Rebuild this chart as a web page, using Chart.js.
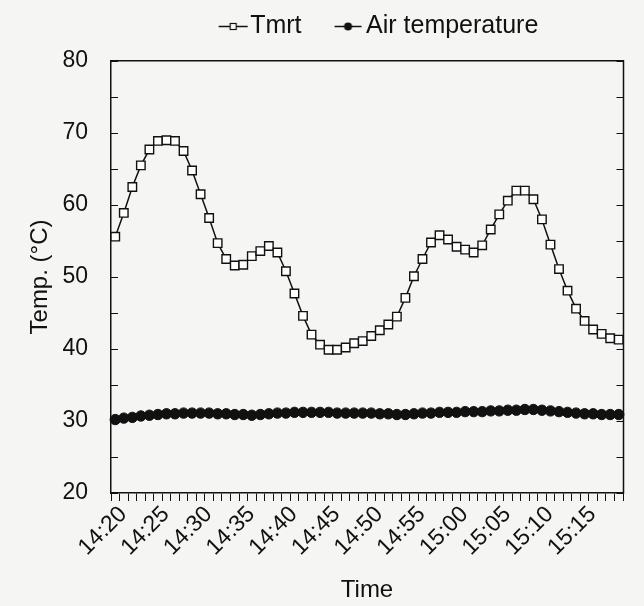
<!DOCTYPE html>
<html>
<head>
<meta charset="utf-8">
<title>Tmrt and air temperature</title>
<script src="https://cdn.jsdelivr.net/npm/chart.js@4.4.1/dist/chart.umd.min.js"></script>
<style>
  html, body { margin: 0; padding: 0; background: #f5f5f3; overflow: hidden; }
  #wrap { width: 644px; height: 606px; }
  canvas { display: block; }
</style>
</head>
<body>
<div id="wrap"><canvas id="chart" width="644" height="606"></canvas></div>
<script>
// one reading per minute, 14:20 - 15:19
const times = [
  '14:20','14:21','14:22','14:23','14:24','14:25','14:26','14:27','14:28','14:29',
  '14:30','14:31','14:32','14:33','14:34','14:35','14:36','14:37','14:38','14:39',
  '14:40','14:41','14:42','14:43','14:44','14:45','14:46','14:47','14:48','14:49',
  '14:50','14:51','14:52','14:53','14:54','14:55','14:56','14:57','14:58','14:59',
  '15:00','15:01','15:02','15:03','15:04','15:05','15:06','15:07','15:08','15:09',
  '15:10','15:11','15:12','15:13','15:14','15:15','15:16','15:17','15:18','15:19'
]

const tmrt = [
  55.6, 58.9, 62.5, 65.5, 67.7, 68.9, 69.0, 68.9, 67.5, 64.8,
  61.5, 58.2, 54.7, 52.5, 51.6, 51.7, 52.9, 53.6, 54.3, 53.4,
  50.8, 47.7, 44.6, 42.0, 40.6, 39.9, 39.9, 40.2, 40.8, 41.1,
  41.8, 42.6, 43.4, 44.5, 47.1, 50.1, 52.5, 54.8, 55.8, 55.2,
  54.2, 53.8, 53.4, 54.4, 56.6, 58.7, 60.6, 62.0, 62.0, 60.8,
  58.0, 54.5, 51.1, 48.1, 45.6, 43.9, 42.7, 42.1, 41.5, 41.3
]

const airTemp = [
  30.2, 30.4, 30.5, 30.7, 30.8, 30.9, 31.0, 31.0, 31.1, 31.1,
  31.1, 31.1, 31.0, 31.0, 30.9, 30.9, 30.8, 30.9, 31.0, 31.1,
  31.1, 31.2, 31.2, 31.2, 31.2, 31.2, 31.1, 31.1, 31.1, 31.1,
  31.1, 31.0, 31.0, 30.9, 30.9, 31.0, 31.1, 31.1, 31.2, 31.2,
  31.2, 31.3, 31.3, 31.3, 31.4, 31.4, 31.5, 31.5, 31.6, 31.6,
  31.5, 31.4, 31.3, 31.2, 31.1, 31.0, 31.0, 30.9, 30.9, 30.9
]

const timeLabels = ['14:20','14:25','14:30','14:35','14:40','14:45','14:50','14:55','15:00','15:05','15:10','15:15']
const tempLabels = [20, 30, 40, 50, 60, 70, 80]

const FONT = "'Liberation Sans', Arial, sans-serif"
const INK = '#111'

// little "-o-" glyphs for the legend, drawn off screen
function legendGlyph(kind) {
  const c = document.createElement('canvas')
  c.width = 64
  c.height = 16
  const g = c.getContext('2d')
  g.strokeStyle = INK
  g.fillStyle = INK
  g.lineWidth = 1.5
  g.beginPath()
  g.moveTo(34, 8.5)
  g.lineTo(kind === 'rect' ? 63 : 61, 8.5)
  g.stroke()
  if (kind === 'rect') {
    g.fillStyle = '#fff'
    g.fillRect(45.5, 5.5, 6, 6)
    g.lineWidth = 1.2
    g.strokeRect(45.5, 5.5, 6, 6)
  } else {
    g.beginPath()
    g.arc(47.5, 8.5, 4, 0, Math.PI * 2)
    g.fill()
  }
  return c
}
const glyphs = [legendGlyph('rect'), legendGlyph('circle')]

// right side of the frame, with the same inward ticks as the left axis
const rightFrame = {
  id: 'rightFrame',
  afterDraw(chart) {
    const {ctx, chartArea, scales} = chart
    const y = scales.y
    const rx = Math.round(chartArea.right) + 0.5
    ctx.save()
    ctx.strokeStyle = INK
    ctx.lineWidth = 1.5
    ctx.beginPath()
    ctx.moveTo(rx, chartArea.top - 0.75)
    ctx.lineTo(rx, chartArea.bottom + 0.75)
    ctx.stroke()
    ctx.lineWidth = 1
    y.ticks.forEach(t => {
      const py = Math.round(y.getPixelForValue(t.value)) + 0.5
      ctx.beginPath()
      ctx.moveTo(rx, py)
      ctx.lineTo(rx - 7, py)
      ctx.stroke()
    })
    ctx.restore()
  }
}

new Chart(document.getElementById('chart'), {
  type: 'line',
  data: {
    labels: times,
    datasets: [
      {
        label: 'Tmrt',
        data: tmrt,
        borderColor: INK,
        borderWidth: 1.5,
        pointStyle: 'rect',
        pointRadius: 6,
        pointBackgroundColor: '#fff',
        pointBorderColor: INK,
        pointBorderWidth: 1.4,
        tension: 0
      },
      {
        label: 'Air temperature',
        data: airTemp,
        borderColor: INK,
        borderWidth: 1.5,
        pointStyle: 'circle',
        pointRadius: 5.2,
        pointBackgroundColor: INK,
        pointBorderColor: INK,
        pointBorderWidth: 1,
        tension: 0
      }
    ]
  },
  plugins: [rightFrame],
  options: {
    responsive: false,
    animation: false,
    devicePixelRatio: 1,
    layout: { padding: { top: 3.5, left: 10, right: 21, bottom: 2 } },
    plugins: {
      tooltip: { enabled: false },
      legend: {
        position: 'top',
        fullSize: false,
        labels: {
          usePointStyle: true,
          pointStyleWidth: 42,
          padding: 10,
          color: INK,
          font: { family: FONT, size: 25 },
          generateLabels: chart => {
            const items = Chart.defaults.plugins.legend.labels.generateLabels(chart)
            items.forEach((it, i) => { it.pointStyle = glyphs[i] })
            return items
          }
        }
      }
    },
    scales: {
      x: {
        type: 'category',
        position: 'bottom',
        offset: true,
        afterFit: s => { s.height = 111 },
        grid: { offset: true, drawOnChartArea: false, tickLength: 8, color: INK, tickWidth: 1 },
        border: { color: INK, width: 1.5 },
        ticks: {
          autoSkip: false,
          minRotation: 45,
          maxRotation: 45,
          padding: 0,
          labelOffset: 8,
          color: INK,
          font: { family: FONT, size: 23 },
          callback: function(v) {
            const t = this.getLabelForValue(v)
            return timeLabels.includes(t) ? t : ''
          }
        },
        title: {
          display: true,
          text: 'Time',
          color: INK,
          padding: { top: 0, bottom: 2 },
          font: { family: FONT, size: 24, lineHeight: 1 }
        }
      },
      xTop: {
        type: 'category',
        position: 'top',
        offset: true,
        afterFit: s => { s.height = 12.5 },
        grid: { display: false },
        border: { color: INK, width: 1.5 },
        ticks: { display: false }
      },
      y: {
        type: 'linear',
        min: 20,
        max: 80,
        position: 'left',
        afterFit: s => { s.width = 101 },
        grid: { drawOnChartArea: false, tickLength: -7, color: INK, tickWidth: 1 },
        border: { color: INK, width: 1.5 },
        ticks: {
          stepSize: 5,
          padding: 30,
          color: INK,
          font: { family: FONT, size: 23 },
          callback: v => tempLabels.includes(v) ? v : ''
        },
        title: {
          display: true,
          text: 'Temp. (°C)',
          color: INK,
          padding: { top: 18, bottom: 0 },
          font: { family: FONT, size: 24, lineHeight: 1 }
        }
      }
    }
  }
})
</script>
</body>
</html>
